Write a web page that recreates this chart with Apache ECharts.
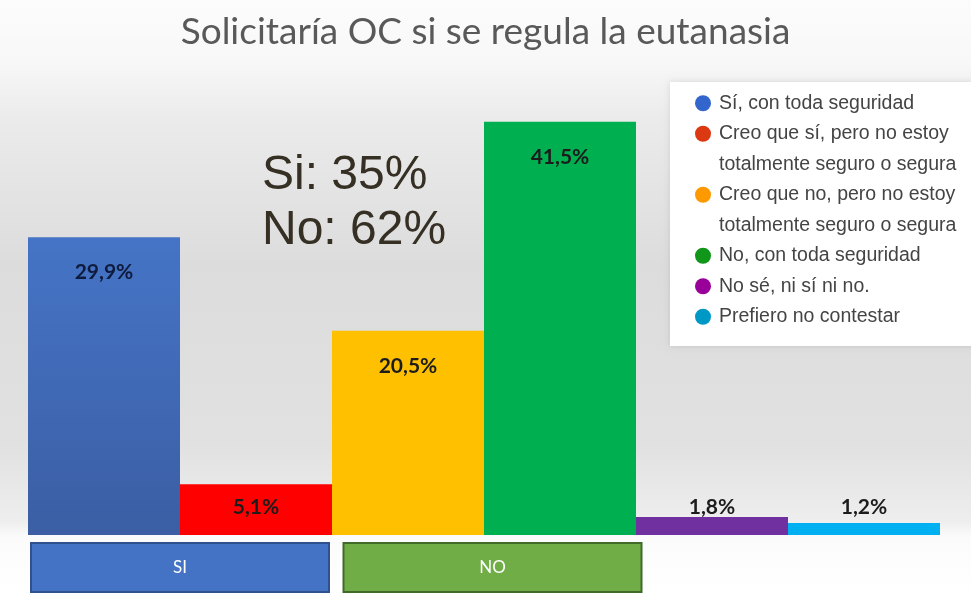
<!DOCTYPE html>
<html>
<head>
<meta charset="utf-8">
<script src="https://cdn.jsdelivr.net/npm/echarts@6/dist/echarts.min.js"></script>
<style>
  html, body { margin: 0; padding: 0; }
  #chart { width: 971px; height: 593px; }
</style>
</head>
<body>
<div id="chart"></div>
<script>
// respuestas (nombre de serie / leyenda)
var categories = [
  'Sí, con toda seguridad',
  'Creo que sí, pero no estoy\ntotalmente seguro o segura',
  'Creo que no, pero no estoy\ntotalmente seguro o segura',
  'No, con toda seguridad',
  'No sé, ni sí ni no.',
  'Prefiero no contestar'
];
var values = [29.9, 5.1, 20.5, 41.5, 1.8, 1.2];
var barColors = ['#4472c4', '#ff0000', '#ffc000', '#00b050', '#7030a0', '#00b0f0'];
var legendColors = ['#3366cc', '#dc3912', '#ff9900', '#109618', '#990099', '#0099c6'];
var groupLabels = ['SI', 'NO', ''];
var summaryText = ['Si: 35%', 'No: 62%'];

var chart = echarts.init(document.getElementById('chart'));

function fmt(v) {
  return v.toFixed(1).replace('.', ',') + '%';
}

var series = categories.map(function (name, i) {
  var color = barColors[i];
  if (i === 0) {
    color = new echarts.graphic.LinearGradient(0, 0, 0, 1, [
      { offset: 0, color: '#4574c6' },
      { offset: 1, color: '#3b5ea4' }
    ]);
  }
  var small = values[i] < 10;
  return {
    name: name,
    type: 'bar',
    stack: 'all',
    barWidth: '100%',
    data: values.map(function (v, j) { return j === i ? v : '-'; }),
    itemStyle: { color: color },
    label: {
      show: true,
      position: small ? 'insideBottom' : 'insideTop',
      distance: small ? 17 : 25,
      formatter: function (p) { return fmt(p.value); },
      fontFamily: 'Lato',
      fontWeight: 'bold',
      fontSize: 21,
      color: i === 0 ? '#0e1b3c' : '#1c1c1c'
    }
  };
});

var LH = 30.5;
var legendRich = {
  t: { fontFamily: 'Liberation Sans', fontSize: 19.5, color: '#444', lineHeight: LH, padding: [0, 0, 0, 8] },
  ind: { width: 16, height: 16, lineHeight: LH }
};
legendColors.forEach(function (c, i) {
  legendRich['d' + i] = { width: 16, height: 16, lineHeight: LH, borderRadius: 8, backgroundColor: c };
});

var option = {
  backgroundColor: new echarts.graphic.LinearGradient(0, 0, 0, 1, [
    { offset: 0, color: '#fcfcfc' },
    { offset: 0.1, color: '#f8f8f8' },
    { offset: 0.2, color: '#ebebeb' },
    { offset: 0.45, color: '#dcdcdc' },
    { offset: 0.75, color: '#e1e1e1' },
    { offset: 0.88, color: '#eeeeee' },
    { offset: 0.905, color: '#fbfbfb' },
    { offset: 1, color: '#ffffff' }
  ]),
  animation: false,
  title: {
    text: 'Solicitaría OC si se regula la eutanasia',
    left: 'center',
    top: 9,
    textStyle: { fontFamily: 'Lato', fontWeight: 'normal', fontSize: 37, color: '#595959' }
  },
  legend: {
    orient: 'vertical',
    left: 670,
    top: 82,
    padding: [6, 20, 14, 20],
    itemGap: 0,
    itemWidth: 0,
    itemHeight: 0,
    icon: 'rect',
    backgroundColor: '#ffffff',
    shadowBlur: 6,
    shadowColor: 'rgba(0,0,0,0.12)',
    data: categories,
    formatter: function (name) {
      var i = categories.indexOf(name);
      var lines = name.split('\n');
      var s = '{d' + i + '|}{t|' + lines[0] + '}';
      if (lines[1]) s += '\n{ind|}{t|' + lines[1] + '}';
      return s;
    },
    textStyle: { lineHeight: LH, rich: legendRich }
  },
  grid: { left: 28, right: 31, top: 37, bottom: 56 },
  xAxis: [{
    type: 'category',
    data: categories,
    show: false
  }, {
    type: 'category',
    data: groupLabels,
    position: 'bottom',
    axisLine: { show: false },
    axisTick: { show: false },
    axisLabel: {
      interval: 0,
      margin: 9,
      formatter: function (v) {
        if (v === 'SI') return '{si|SI}';
        if (v === 'NO') return '{gap|}{no|NO}';
        return '';
      },
      rich: {
        si: { width: 296, height: 47, lineHeight: 47, align: 'center', backgroundColor: '#4472c4', borderColor: '#2f528f', borderWidth: 2, color: '#fff', fontFamily: 'Lato', fontSize: 17 },
        no: { width: 296, height: 47, lineHeight: 47, align: 'center', backgroundColor: '#70ad47', borderColor: '#3f6a2a', borderWidth: 2, color: '#fff', fontFamily: 'Lato', fontSize: 17 },
        gap: { width: 17, height: 47 }
      }
    }
  }],
  yAxis: { type: 'value', min: 0, max: 50, show: false },
  graphic: [{
    type: 'text',
    left: 262,
    top: 148,
    style: {
      text: summaryText.join('\n'),
      width: 200,
      align: 'center',
      fontFamily: 'Liberation Sans',
      fontSize: 48,
      lineHeight: 55,
      fill: '#352f24'
    }
  }],
  series: series
};

chart.setOption(option);
</script>
</body>
</html>
